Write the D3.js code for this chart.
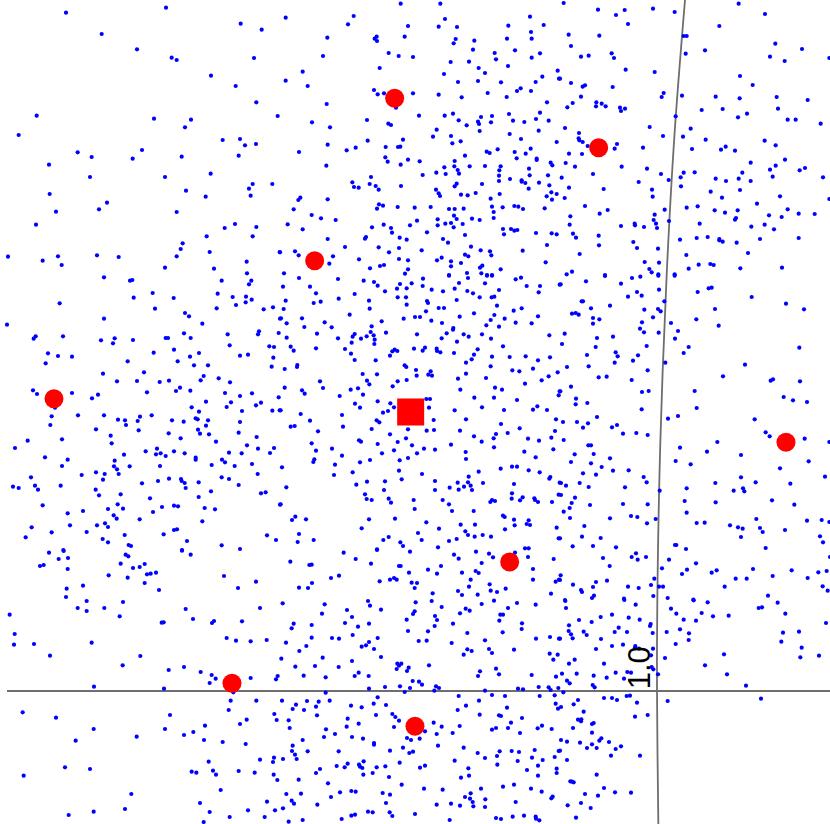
<!DOCTYPE html>
<html>
<head>
<meta charset="utf-8">
<script src="https://cdn.jsdelivr.net/npm/d3@7"></script>
<style>
  html, body { margin: 0; padding: 0; background: #fff; overflow: hidden; }
  svg { display: block; }
</style>
</head>
<body>
<script>
'use strict';

// all values are read off the picture on a 2490 x 2472 grid (north is y = 0)
// blue points, flat x,y lists, one list per patch of the grid; patch starts are in patchStarts
const pointsNW = [198,38,498,23,722,71,785,89,305,102,411,148,515,173,530,180,762,174,633,227,707,258,769,307,110,347,462,356,573,359,833,348,555,382,56,405,668,420,720,417,735,436,768,432,426,450,233,457,275,471,398,476,545,470,716,467,147,494,270,531,495,531,632,521,758,552,817,552,747,566,558,572,149,582,617,590,752,587,321,608,297,628,168,635,530,636,108,674,705,672,674,684,769,681,620,709,758,709,548,730,542,747,24,770,128,782,174,769,185,795,291,766,356,771,530,769,629,756,839,756,740,785,495,803,642,806,741,820];
const pointsN = [362,11,481,11,17,53,221,48,204,73,750,50,495,57,384,78,476,80,531,81,685,77,791,75,142,113,374,110,290,110,284,116,291,123,753,96,527,117,681,116,755,116,583,122,521,130,579,149,705,151,326,159,356,168,399,171,129,168,644,159,780,160,755,173,648,178,512,186,567,185,684,198,596,204,299,204,68,215,492,222,615,219,833,212,17,242,837,236,787,230,534,246,594,243,663,247,767,246,83,258,282,270,293,283,312,280,399,280,476,284,545,292,623,279,711,273,722,265,753,273,680,291,140,312,348,323,801,307,417,347,494,347,519,341,687,342,780,338,603,351,636,348,261,360,96,367,536,361,594,365,597,372,633,367,699,362,733,366,768,357,806,362,325,371,333,375,560,376,150,382,470,389,599,393,776,392,689,402,459,410,513,408,723,417,263,422,369,419,517,430,542,424,830,426,143,434,317,441,354,441,361,440,200,451,227,443,57,456,620,455,629,459,653,448,752,446,704,456,737,461,555,467,316,472,323,485,710,475,770,476,770,480,384,479,419,484,524,483,812,488,817,496,362,494,139,497,523,499,493,502,569,499,615,498,662,499,533,510,658,511,747,506,469,518,497,522,537,521,428,525,657,527,749,526,804,526,273,531,217,547,690,537,657,543,725,541,725,545,736,549,777,548,808,556,269,552,287,558,222,561,236,563,363,558,296,569,530,551,524,559,606,552,746,566,468,569,476,580,480,588,543,584,563,586,587,579,659,582,814,577,830,582,800,589,61,593,55,600,143,598,632,596,816,599,297,613,309,617,291,626,353,621,404,623,452,621,636,620,668,622,703,618,715,620,729,627,794,625,41,628,507,627,524,627,551,626,641,636,95,645,522,647,530,657,123,655,167,660,576,656,599,660,641,654,473,658,411,662,23,673,311,674,513,669,496,671,473,676,548,672,390,676,276,682,333,684,521,682,669,687,693,687,703,692,712,690,68,688,336,698,441,697,672,703,768,699,815,700,830,703,555,705,143,717,258,711,255,716,359,713,380,719,489,717,504,728,801,735,195,741,296,742,357,744,573,740,425,751,602,751,630,754,728,752,0,757,45,754,327,757,56,766,159,769,555,764,565,769,634,766,237,778,357,777,384,781,471,781,485,773,513,784,797,787,148,791,543,789,513,799,300,798,312,795,607,797,600,803,270,805,384,808,662,808,12,820,375,821,507,825,561,819,604,820,621,825,636,825];
const pointsNE = [11,9,536,11,114,29,194,30,279,26,344,36,168,45,615,42,204,72,478,78,26,104,118,107,371,108,380,108,33,138,646,131,155,160,435,151,726,147,377,161,63,170,86,167,162,174,630,170,674,183,808,174,197,209,284,216,0,236,540,228,33,249,68,260,75,256,158,261,578,255,311,279,305,291,366,287,467,290,63,290,539,295,650,291,743,300,109,307,38,309,125,311,108,319,137,319,22,322,180,323,183,333,195,326,425,330,488,327,654,326,561,341,347,349,534,352,683,359,707,359,782,371,15,384,269,381,392,386,57,399,309,408,369,410,56,415,58,421,68,426,437,419,614,422,647,436,171,432,83,438,249,443,164,446,396,447,483,449,497,440,525,452,27,461,66,462,17,489,572,488,45,500,185,500,647,497,675,479,261,506,630,509,735,504,719,511,99,522,303,522,371,518,404,517,547,518,5,533,362,532,638,530,789,532,326,540,467,536,498,543,536,536,572,543,236,546,363,559,27,563,131,567,276,569,540,570,452,575,14,594,278,590,486,593,660,589,808,597,75,618,591,611,380,623,413,619,143,630,314,629,464,631,533,631,683,628,119,641,284,644,495,638,716,641,764,642,31,649,627,646,665,651,528,654,525,659,281,660,29,674,224,671,225,676,183,678,252,681,288,671,291,684,327,663,419,671,574,680,614,674,642,688,39,701,48,713,116,707,360,719,410,714,443,711,478,717,478,721,488,725,530,728,600,717,716,714,220,726,117,736,231,744,294,746,59,762,564,759,379,765,254,786,297,788,416,794,451,792,461,795,36,815,268,807,275,817,386,806,541,805,666,803,20,823,295,823,344,823,135,825];
const pointsW = [312,7,390,17,397,15,665,17,754,17,747,28,458,54,653,56,401,68,521,69,698,66,738,65,755,74,179,85,737,82,708,90,465,101,650,100,791,103,819,97,555,114,567,124,312,131,840,131,21,149,607,146,552,175,683,178,777,169,774,178,836,174,107,184,101,191,189,184,344,190,303,196,399,195,497,189,504,189,572,189,339,205,689,211,808,214,822,216,522,224,144,235,461,233,597,234,174,243,216,245,570,245,720,242,744,239,820,248,383,259,533,259,137,265,582,271,624,271,815,275,432,292,309,296,611,303,351,319,411,318,479,321,507,317,602,316,656,310,690,322,540,338,528,348,571,347,99,346,111,357,216,354,294,359,441,352,675,354,720,363,756,355,836,367,276,370,618,380,693,382,783,383,768,391,575,397,680,396,165,398,597,410,726,408,817,407,839,406,234,421,312,421,455,421,155,424,420,425,354,434,375,436,413,438,516,436,551,440,587,430,593,433,624,436,720,441,151,450,378,450,618,452,288,463,416,466,594,464,600,476,506,475,627,478,716,473,332,482,770,486,186,493,83,497,335,505,542,490,648,500,741,511,45,519,437,529,471,521,522,529,468,538,482,535,497,543,554,535,687,533,725,535,774,521,822,519,810,534,372,539,135,547,203,554,344,557,587,548,587,554,666,554,675,562,635,570,704,573,756,567,186,573,342,574,351,583,389,574,480,573,356,597,288,592,314,597,245,600,773,597,93,607,309,614,507,611,543,612,545,618,554,624,474,618,665,607,687,612,596,622,426,625,105,632,182,632,39,635,56,639,114,644,287,644,557,639,716,630,297,661,362,658,633,649,783,655,797,652,596,666,450,670,128,691,353,688,522,692,534,694,486,696,614,699,645,703,840,689,324,702,369,701,203,715,249,708,459,711,341,721,350,731,419,733,210,751,291,751,315,745,324,756,607,739,95,757,155,772,260,771,522,765,531,763,374,780,491,778,77,787,308,792,324,802,561,798,801,781,828,795,386,810,393,813,665,811,720,822,546,825,190,825];
const pointsC = [57,9,174,12,251,17,282,21,293,32,360,27,395,25,429,11,507,2,537,24,564,9,615,25,621,2,636,2,707,13,723,8,9,35,90,35,351,41,380,40,428,33,455,44,524,41,489,49,562,48,657,45,740,33,780,33,108,55,224,57,315,49,579,55,776,52,839,29,353,67,378,67,599,67,635,67,643,65,176,71,17,77,101,84,122,80,267,77,441,78,444,84,530,75,380,89,651,92,11,102,269,101,476,99,492,99,438,109,701,107,725,100,209,119,582,115,405,126,420,126,539,125,643,120,774,124,3,130,66,130,371,131,674,131,632,135,134,142,305,139,454,137,20,145,486,144,707,143,755,145,619,151,73,156,155,157,275,154,657,155,520,159,519,164,272,171,318,173,111,176,411,178,500,175,551,178,566,185,606,178,224,177,218,185,260,184,281,181,808,181,20,188,174,190,243,191,284,194,485,190,633,191,215,203,283,207,531,200,32,215,108,220,195,222,402,221,435,218,669,214,470,221,41,227,344,224,337,229,352,228,428,227,471,228,481,232,522,234,593,223,213,236,330,242,582,239,636,245,689,246,737,244,810,247,224,255,287,256,575,253,774,256,558,263,52,270,51,276,374,271,379,276,632,274,14,282,408,285,452,289,697,286,718,289,759,281,833,292,248,297,291,298,410,302,445,299,456,302,558,296,806,304,534,311,618,309,785,316,120,319,261,317,353,319,380,315,268,328,735,326,338,334,14,338,129,339,212,344,234,340,541,344,645,338,666,344,66,346,74,356,249,359,179,363,839,349,836,361,583,368,642,368,711,375,293,379,439,372,450,372,225,386,331,385,342,397,240,398,606,397,772,394,447,398,2,406,324,408,309,413,524,406,672,405,759,404,801,405,62,417,186,420,461,435,558,433,828,433,90,437,290,436,298,442,663,447,32,455,44,453,189,455,275,462,384,463,440,467,462,465,540,467,719,460,825,468,114,469,683,474,330,478,648,477,582,484,641,490,378,490,744,491,814,488,237,496,243,500,353,501,605,500,777,497,95,505,293,507,396,511,513,509,642,517,156,521,108,527,342,526,432,521,465,524,820,523,557,531,733,530,306,535,411,535,186,542,767,547,103,553,270,555,384,549,558,552,100,561,240,562,359,556,165,569,6,577,662,581,696,575,711,575,746,586,357,587,218,592,596,590,779,592,162,600,426,597,365,613,566,605,811,606,808,611,315,619,465,618,261,620,533,623,564,622,609,624,229,629,702,627,839,623,572,632,19,637,509,638,552,635,312,645,465,645,536,644,576,645,696,655,255,658,836,659,695,671,728,667,260,672,275,675,326,671,401,675,488,675,636,675,645,678,631,681,720,676,763,670,765,675,774,681,816,681,333,683,2,688,507,688,404,702,516,708,581,708,46,725,669,722,674,726,36,735,78,733,267,733,345,731,702,734,746,736,439,742,740,747,750,750,542,749,585,749,704,751,245,760,477,761,675,763,830,758,556,769,414,774,57,777,564,780,608,780,584,785,633,785,326,786,836,790,53,801,101,795,310,795,425,795,507,798,530,792,361,802,369,813,474,817,291,823,735,820,746,820];
const pointsE = [2,28,78,19,135,3,216,9,241,5,295,2,344,2,183,26,297,44,413,51,446,40,455,38,231,51,204,65,245,62,575,66,65,79,69,79,313,79,150,92,93,100,253,104,294,102,302,109,465,102,678,86,732,103,36,116,47,114,56,119,99,129,118,133,279,127,409,133,99,146,246,142,333,144,476,152,240,161,354,168,14,176,252,172,296,173,111,189,159,185,345,191,6,207,107,216,260,213,386,216,718,218,167,232,173,244,81,240,234,241,371,234,219,257,164,263,316,263,555,269,21,276,86,274,263,286,116,307,140,305,489,304,215,315,632,317,639,313,720,319,33,335,266,348,246,351,404,348,1,349,48,371,671,366,699,376,741,381,82,384,47,388,245,403,410,399,111,426,354,423,324,431,584,433,9,441,51,441,84,445,171,450,156,457,69,458,189,476,229,474,263,480,617,472,629,484,734,491,11,495,472,501,808,501,85,511,93,511,360,518,441,530,101,537,44,538,543,540,150,550,33,561,93,565,347,558,392,568,746,559,125,576,159,587,206,586,660,580,69,595,108,599,251,606,543,607,795,605,3,624,18,632,59,624,260,622,466,624,587,622,691,626,86,636,195,637,380,640,549,640,553,649,521,647,299,647,3,660,45,668,636,676,374,678,467,682,35,684,90,690,189,687,263,688,703,689,29,699,11,710,380,713,213,723,232,726,30,729,150,730,287,732,261,745,589,732,741,737,785,735,808,741,410,744,434,743,73,753,510,751,534,757,548,761,600,759,608,771,675,765,66,785,122,789,0,790,543,786,780,784,789,802,38,814,99,813,168,817,345,810,349,810,378,822,617,819,228,835,215,846,129,849,233,854,258,846,327,854,810,846,408,865,149,873,306,880,381,884,579,882,695,886,470,886,455,893,366,897,775,892,800,888,2,901,638,903,527,911,560,911,743,909,283,911,0,915,108,921,141,917,39,929,273,930,99,936,204,935,236,939,297,935,309,935,494,935,788,934,63,945,66,951,803,947,102,962,96,969,280,963,323,969,624,962,192,971,15,975,400,974];
const pointsSW = [147,8,191,3,546,2,572,14,377,14,385,19,176,27,204,24,362,41,120,48,131,45,203,57,399,54,419,51,434,42,326,76,441,73,452,71,468,68,383,83,672,78,434,99,768,95,249,107,200,116,714,114,477,120,198,141,260,153,369,156,233,174,260,183,313,174,557,177,780,174,29,194,359,199,579,207,642,213,636,219,726,214,485,218,491,217,44,252,680,264,708,272,752,274,800,270,42,284,102,282,275,278,150,317,421,318,368,346,506,360,552,351,602,366,635,375,647,386,752,384,833,378,828,388,629,399,282,410,492,416,700,427,692,452,769,452,686,480,68,487,168,503,510,495,823,492,740,509,830,510,720,522,615,527,281,537,495,537,580,546,552,555,410,560,227,572,612,570,668,576,737,582,780,629,822,623,819,636,626,635,195,652,270,657,575,665,589,668,639,662,716,663,764,668,71,677,648,674,821,674,832,690,662,720,394,732,600,759,801,755,375,777,629,786,744,781,825,781,206,795,281,785,689,801,794,801,611,816];
const pointsS = [191,8,291,0,390,5,522,14,588,5,627,11,639,22,705,8,744,21,227,27,536,26,821,27,31,35,273,41,605,39,88,45,95,44,357,48,362,48,483,48,444,59,759,57,387,68,471,71,546,68,587,63,596,69,153,84,177,77,342,84,330,89,350,89,572,89,759,89,837,89,827,95,299,94,96,99,395,98,411,99,629,103,57,113,84,114,404,114,567,110,632,122,677,116,458,130,534,123,651,126,546,135,593,134,813,131,264,153,407,157,455,153,642,152,8,160,134,163,270,167,605,162,711,159,767,164,485,171,684,174,201,180,303,179,557,176,569,182,126,191,404,184,399,192,540,190,661,194,669,194,216,201,465,198,380,209,471,210,658,212,41,221,195,219,267,221,519,221,726,220,95,225,234,230,464,228,35,235,725,237,384,243,444,244,668,247,562,249,218,255,95,263,156,264,177,266,293,264,768,266,810,261,837,266,416,273,440,272,615,271,18,278,267,276,258,286,245,290,79,288,515,279,282,297,58,303,562,298,575,303,627,297,636,309,702,299,809,311,833,314,551,314,303,321,128,323,4,326,820,329,216,333,352,341,364,341,357,347,447,346,46,350,105,348,176,351,386,353,350,357,381,363,648,356,600,364,71,377,224,378,236,368,266,378,137,382,594,378,657,373,755,375,828,380,398,393,417,395,426,404,315,411,360,409,390,414,267,416,468,409,477,414,463,422,374,426,137,428,615,422,714,416,729,418,776,411,806,412,812,420,835,414,293,442,536,438,636,435,675,438,779,438,824,436,6,452,81,453,149,452,597,452,116,455,48,464,108,470,281,461,213,467,245,472,318,465,38,477,72,480,558,467,533,480,681,473,827,461,834,476,111,496,288,495,337,492,346,501,599,494,657,496,663,498,726,504,203,506,357,512,26,511,461,518,236,521,693,518,200,530,29,534,342,531,485,530,539,528,786,527,773,535,648,534,636,539,684,534,815,537,435,544,138,538,518,549,165,552,470,552,720,549,132,561,216,561,249,566,381,564,393,570,419,566,68,570,282,579,282,584,474,587,38,587,369,593,551,593,36,603,83,604,176,604,330,602,399,605,388,609,45,614,593,609,659,604,695,603,717,606,764,600,836,603,651,618,50,627,9,627,615,624,756,623,824,621,524,632,713,633,788,630,251,634,359,638,203,641,237,644,170,648,194,652,240,650,247,654,290,652,316,649,435,647,420,653,652,644,774,647,120,657,565,655,741,660,830,656,108,669,278,669,830,669,250,674,327,681,567,677,543,683,774,677,56,689,144,700,365,704,669,710,702,704,214,723,227,725,180,727,432,716,488,719,603,716,753,716,785,725,308,729,19,732,63,731,330,734,572,730,818,740,153,741,555,741,570,746,616,748,814,745,35,752,42,761,318,759,578,756,707,756,112,764,470,764,513,761,540,767,580,769,615,771,9,775,264,785,278,787,329,787,337,798,405,792,214,797,225,794,698,800,732,797,767,800,768,806,185,807,509,810,648,804,663,807,778,811,26,815,68,810];
const pointsSE = [16,3,193,0,401,1,443,7,653,8,227,14,18,24,333,26,596,24,606,22,349,41,425,39,676,41,122,51,156,44,206,53,459,49,506,47,57,60,95,66,239,59,371,59,408,62,27,76,272,72,270,78,798,69,176,83,360,88,26,93,71,95,80,105,164,96,201,96,278,99,320,96,387,100,669,98,717,95,33,103,38,115,0,116,123,117,386,120,664,125,156,138,189,134,226,138,347,132,108,147,225,143,237,146,279,146,725,143,492,163,273,166,721,172,777,167,315,174,44,179,132,191,27,191,435,196,275,201,280,208,6,221,50,221,167,218,202,216,213,218,294,223,501,223,101,227,140,233,192,236,21,242,29,250,98,255,104,262,558,257,10,277,132,294,156,294,171,300,200,288,210,287,603,296,54,300,323,303,41,313,231,308,3,321,71,335,225,350,263,345,54,359,64,358,63,364,96,372,101,369,39,384,96,398,3,420,21,425,60,428,118,422,124,415,147,426,96,433,81,444,110,444,167,447,183,439,0,452,153,467,240,467,21,480,110,524,31,544,36,545,41,547,132,564,165,577,213,578,75,582,114,587,63,609,23,616,92,624,48,653];

const patches = [pointsNW, pointsN, pointsNE, pointsW, pointsC, pointsE, pointsSW, pointsS, pointsSE];
const patchStartX = [0, 840, 1680, 0, 840, 1680, 0, 840, 1680];
const patchStartY = [0, 0, 0, 825, 825, 825, 1650, 1650, 1800];

// red circles and the red square
const circleX = [1184, 1796, 944, 162, 2358, 1529, 696, 1245];
const circleY = [295, 443, 782, 1196, 1327, 1686, 2050, 2179];
const squareX = [1232];
const squareY = [1236];

// the two axes, the upright one bends a little
const axisH = { x: [21, 2490], y: [2073, 2073] };
const axisVX = [2055, 2023, 2000, 1981, 1972, 1971, 1975];
const axisVY = [0, 411, 825, 1326, 1800, 2073, 2472];
const tickLabel = ["1.0"];
const tickX = [1950];
const tickY = [2068];

const width = 830;
const height = 824;

const xScale = d3.scaleLinear().domain([0, 2490]).range([0, width]);
const yScale = d3.scaleLinear().domain([0, 2472]).range([0, height]);

let svgContainer = d3.select('body')
  .append('svg')
  .attr('width', width)
  .attr('height', height);

// unpack the flat lists into points
let points = [];
patches.forEach((list, p) => {
  for (let i = 0; i < list.length; i += 2) {
    points.push({ x: list[i] + patchStartX[p], y: list[i + 1] + patchStartY[p] });
  }
});

// draw the axes first
svgContainer.append('line')
  .attr('x1', xScale(axisH.x[0]))
  .attr('x2', xScale(axisH.x[1]))
  .attr('y1', yScale(axisH.y[0]))
  .attr('y2', yScale(axisH.y[1]))
  .attr('stroke', '#6e6e6e')
  .attr('stroke-width', 1.8);

let axisLine = d3.line()
  .x((d, i) => xScale(axisVX[i]))
  .y((d, i) => yScale(axisVY[i]))
  .curve(d3.curveCatmullRom);

svgContainer.append('path')
  .attr('d', axisLine(axisVX))
  .attr('fill', 'none')
  .attr('stroke', '#6e6e6e')
  .attr('stroke-width', 1.8);

// blue points
svgContainer.selectAll('.dot')
  .data(points)
  .enter()
  .append('circle')
  .attr('class', 'dot')
  .attr('cx', d => xScale(d.x))
  .attr('cy', d => yScale(d.y))
  .attr('r', 2.1)
  .attr('fill', '#0000ff');

// tick label sits over the points so the decimal point stays visible
svgContainer.selectAll('.tick')
  .data(tickLabel)
  .enter()
  .append('text')
  .attr('class', 'tick')
  .attr('transform', (d, i) => 'translate(' + xScale(tickX[i]) + ',' + yScale(tickY[i]) + ')rotate(-90)')
  .style('font-family', '"Liberation Sans", Arial, sans-serif')
  .style('font-size', '31px')
  .attr('fill', '#000')
  .text(d => d);

// red markers go on top
svgContainer.selectAll('.marker')
  .data(circleX)
  .enter()
  .append('circle')
  .attr('class', 'marker')
  .attr('cx', d => xScale(d))
  .attr('cy', (d, i) => yScale(circleY[i]))
  .attr('r', 9.5)
  .attr('fill', '#ff0000');

svgContainer.selectAll('.square')
  .data(squareX)
  .enter()
  .append('rect')
  .attr('class', 'square')
  .attr('x', d => xScale(d) - 13.5)
  .attr('y', (d, i) => yScale(squareY[i]) - 13.5)
  .attr('width', 27)
  .attr('height', 27)
  .attr('fill', '#ff0000');
</script>
</body>
</html>
